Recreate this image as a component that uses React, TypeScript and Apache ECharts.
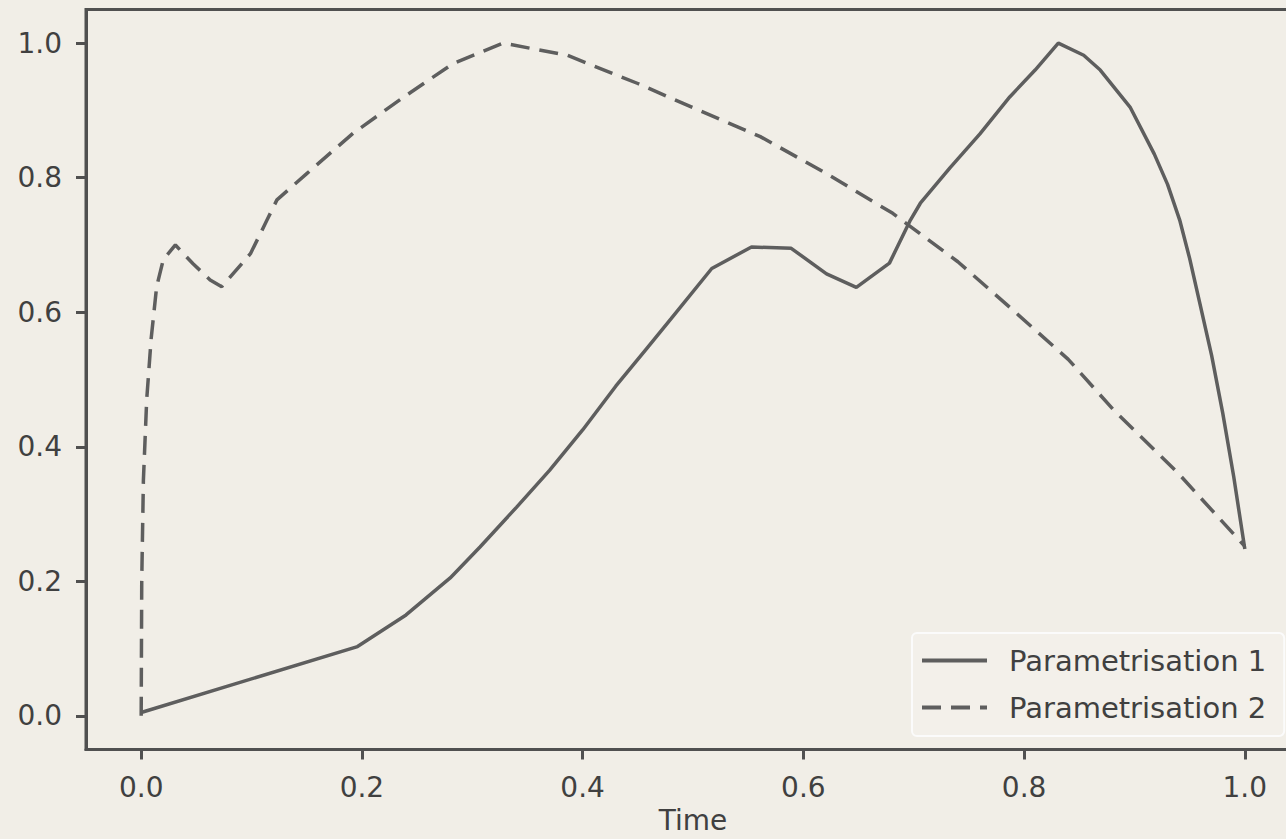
import React, { useEffect, useRef } from "react";
import * as echarts from "echarts";

const tickValues = [0, 0.2, 0.4, 0.6, 0.8, 1.0];
const seriesNames = ["Parametrisation 1", "Parametrisation 2"];

const param1X = [0, 0.196, 0.24, 0.28, 0.307, 0.34, 0.37, 0.40, 0.43, 0.458, 0.48, 0.517, 0.553, 0.589, 0.621, 0.648, 0.678, 0.697, 0.706, 0.733, 0.76, 0.787, 0.81, 0.831, 0.854, 0.869, 0.896, 0.918, 0.93, 0.941, 0.95, 0.959, 0.97, 0.98, 0.99, 1.0];
const param1Y = [0.005, 0.103, 0.15, 0.205, 0.251, 0.31, 0.365, 0.425, 0.49, 0.546, 0.59, 0.665, 0.697, 0.695, 0.657, 0.637, 0.673, 0.737, 0.762, 0.815, 0.865, 0.92, 0.96, 1.0, 0.982, 0.96, 0.905, 0.835, 0.79, 0.737, 0.68, 0.615, 0.535, 0.45, 0.355, 0.248];

const param2X = [0, 0.0005, 0.002, 0.005, 0.009, 0.014, 0.02, 0.031, 0.047, 0.0625, 0.073, 0.099, 0.114, 0.123, 0.15, 0.192, 0.238, 0.283, 0.328, 0.386, 0.45, 0.5, 0.561, 0.62, 0.681, 0.74, 0.79, 0.84, 0.881, 0.94, 1.0];
const param2Y = [0, 0.2, 0.35, 0.47, 0.56, 0.638, 0.678, 0.7, 0.672, 0.648, 0.638, 0.687, 0.737, 0.767, 0.806, 0.866, 0.92, 0.97, 1.0, 0.982, 0.94, 0.904, 0.861, 0.807, 0.747, 0.675, 0.603, 0.53, 0.455, 0.36, 0.252];

const BG = "#f1eee7";
const LINE = "#5e5e5e";
const AXIS = "#505050";
const TEXT = "#404040";
const FONT = "DejaVu Sans";

export default function App() {
  const ref = useRef<HTMLDivElement>(null);

  useEffect(() => {
    if (!ref.current) return;
    const chart = echarts.init(ref.current, null, { renderer: "svg" });
    const p1 = param1X.map((x, i) => [x, param1Y[i]]);
    const p2 = param2X.map((x, i) => [x, param2Y[i]]);
    const fmt = (v: number) => v.toFixed(1);
    chart.setOption({
      animation: false,
      backgroundColor: BG,
      textStyle: { fontFamily: FONT },
      grid: {
        left: 86,
        top: 9.5,
        right: 0,
        bottom: 89.5,
        containLabel: false,
        outerBoundsMode: "none",
        show: true,
        borderColor: AXIS,
        borderWidth: 3,
        backgroundColor: "transparent",
      },
      legend: {
        orient: "vertical",
        left: 912,
        top: 633,
        padding: [13, 18, 14, 8],
        itemGap: 18,
        itemWidth: 65,
        itemHeight: 1,
        itemStyle: { opacity: 0 },
        lineStyle: { width: 4 },
        backgroundColor: "#f3f0ea",
        borderColor: "#fbfbfb",
        borderWidth: 2,
        borderRadius: 5,
        data: seriesNames,
        textStyle: {
          fontFamily: FONT,
          fontSize: 29,
          color: TEXT,
          padding: [0, 0, 0, 17],
        },
      },
      xAxis: {
        type: "value",
        min: -0.05,
        max: 1.05,
        name: "Time",
        nameLocation: "middle",
        nameGap: 57,
        nameTextStyle: { fontFamily: FONT, fontSize: 28, color: TEXT },
        splitLine: { show: false },
        axisLine: { show: true, onZero: false, lineStyle: { color: AXIS, width: 3 } },
        axisTick: { show: true, length: 10, customValues: tickValues, lineStyle: { color: AXIS, width: 3 } },
        axisLabel: {
          customValues: tickValues,
          formatter: fmt,
          fontFamily: FONT,
          fontSize: 28,
          color: TEXT,
          margin: 24,
        },
      },
      yAxis: {
        type: "value",
        min: -0.05,
        max: 1.05,
        splitLine: { show: false },
        axisLine: { show: true, onZero: false, lineStyle: { color: AXIS, width: 3 } },
        axisTick: { show: true, length: 10, customValues: tickValues, lineStyle: { color: AXIS, width: 3 } },
        axisLabel: {
          customValues: tickValues,
          formatter: fmt,
          fontFamily: FONT,
          fontSize: 28,
          color: TEXT,
          margin: 24,
        },
      },
      series: [
        {
          name: seriesNames[0],
          type: "line",
          data: p1,
          showSymbol: false,
          symbol: "none",
          lineStyle: { color: LINE, width: 3.5, type: "solid" },
          itemStyle: { color: LINE },
        },
        {
          name: seriesNames[1],
          type: "line",
          data: p2,
          showSymbol: false,
          symbol: "none",
          lineStyle: { color: LINE, width: 3.5, type: [19, 10] },
          itemStyle: { color: LINE },
        },
      ],
    });
    return () => chart.dispose();
  }, []);

  return (
    <div
      style={{ position: "absolute", left: 0, top: 0, width: 1286, height: 839, overflow: "hidden", background: BG }}
    >
      <div ref={ref} style={{ width: 1300, height: 839 }} />
    </div>
  );
}
